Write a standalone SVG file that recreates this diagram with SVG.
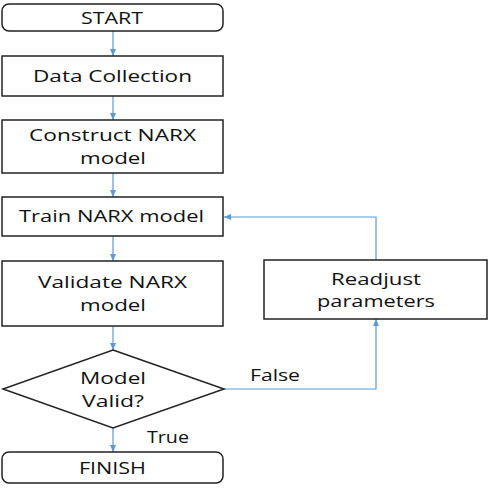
<svg xmlns="http://www.w3.org/2000/svg" width="490" height="488" viewBox="0 0 490 488">
<defs>
<marker id="ah" markerWidth="8" markerHeight="8" refX="7" refY="4" orient="auto" markerUnits="userSpaceOnUse">
<path d="M0,1 L7,4 L0,7 z" fill="#5b9bd5"/>
</marker>
<style>
.box{fill:#fff;stroke:#222;stroke-width:1.5}
.t{font-family:"Open Sans","Liberation Sans",sans-serif;font-size:17px;fill:#111;text-anchor:middle}
.lbl{font-family:"Open Sans","Liberation Sans",sans-serif;font-size:17px;fill:#111}
.c{fill:none;stroke:#5b9bd5;stroke-width:1.2;marker-end:url(#ah)}
</style>
</defs>
<rect width="490" height="488" fill="#fff"/>
<g id="connectors">
<line class="c" x1="113" y1="31" x2="113" y2="56"/>
<line class="c" x1="113" y1="96" x2="113" y2="120"/>
<line class="c" x1="113" y1="173" x2="113" y2="197"/>
<line class="c" x1="113" y1="236" x2="113" y2="261"/>
<line class="c" x1="113" y1="326" x2="113" y2="350"/>
<line class="c" x1="113" y1="428" x2="113" y2="452"/>
<polyline class="c" points="224,389 376,389 376,319"/>
<polyline class="c" points="376,260 376,217 224,217"/>
</g>
<g id="start"><rect class="box" x="2" y="4" width="221" height="27" rx="7"/><text class="t" x="112" y="24" textLength="62" lengthAdjust="spacingAndGlyphs">START</text></g>
<g id="data"><rect class="box" x="2" y="56" width="221" height="40"/><text class="t" x="112.5" y="82" textLength="159" lengthAdjust="spacingAndGlyphs">Data Collection</text></g>
<g id="construct"><rect class="box" x="2" y="120" width="221" height="53"/><text class="t" x="112.5" y="141" textLength="167" lengthAdjust="spacingAndGlyphs">Construct NARX</text><text class="t" x="113" y="164" textLength="66" lengthAdjust="spacingAndGlyphs">model</text></g>
<g id="train"><rect class="box" x="2" y="197" width="221" height="39"/><text class="t" x="111.5" y="222" textLength="185" lengthAdjust="spacingAndGlyphs">Train NARX model</text></g>
<g id="validate"><rect class="box" x="2" y="261" width="221" height="65"/><text class="t" x="112.5" y="288" textLength="149" lengthAdjust="spacingAndGlyphs">Validate NARX</text><text class="t" x="113" y="311" textLength="66" lengthAdjust="spacingAndGlyphs">model</text></g>
<g id="decision"><polygon class="box" points="113,350 224,389 113,428 3,389"/><text class="t" x="113" y="384" textLength="66" lengthAdjust="spacingAndGlyphs">Model</text><text class="t" x="113" y="407" textLength="62" lengthAdjust="spacingAndGlyphs">Valid?</text></g>
<g id="finish"><rect class="box" x="2" y="452" width="221" height="31" rx="7"/><text class="t" x="112.5" y="474" textLength="67" lengthAdjust="spacingAndGlyphs">FINISH</text></g>
<g id="readjust"><rect class="box" x="264" y="260" width="223" height="59"/><text class="t" x="376" y="285" textLength="90" lengthAdjust="spacingAndGlyphs">Readjust</text><text class="t" x="376" y="307" textLength="118" lengthAdjust="spacingAndGlyphs">parameters</text></g>
<g id="labels"><text class="lbl" x="250" y="381" textLength="50" lengthAdjust="spacingAndGlyphs">False</text><text class="lbl" x="147" y="443" textLength="42" lengthAdjust="spacingAndGlyphs">True</text></g>
</svg>
